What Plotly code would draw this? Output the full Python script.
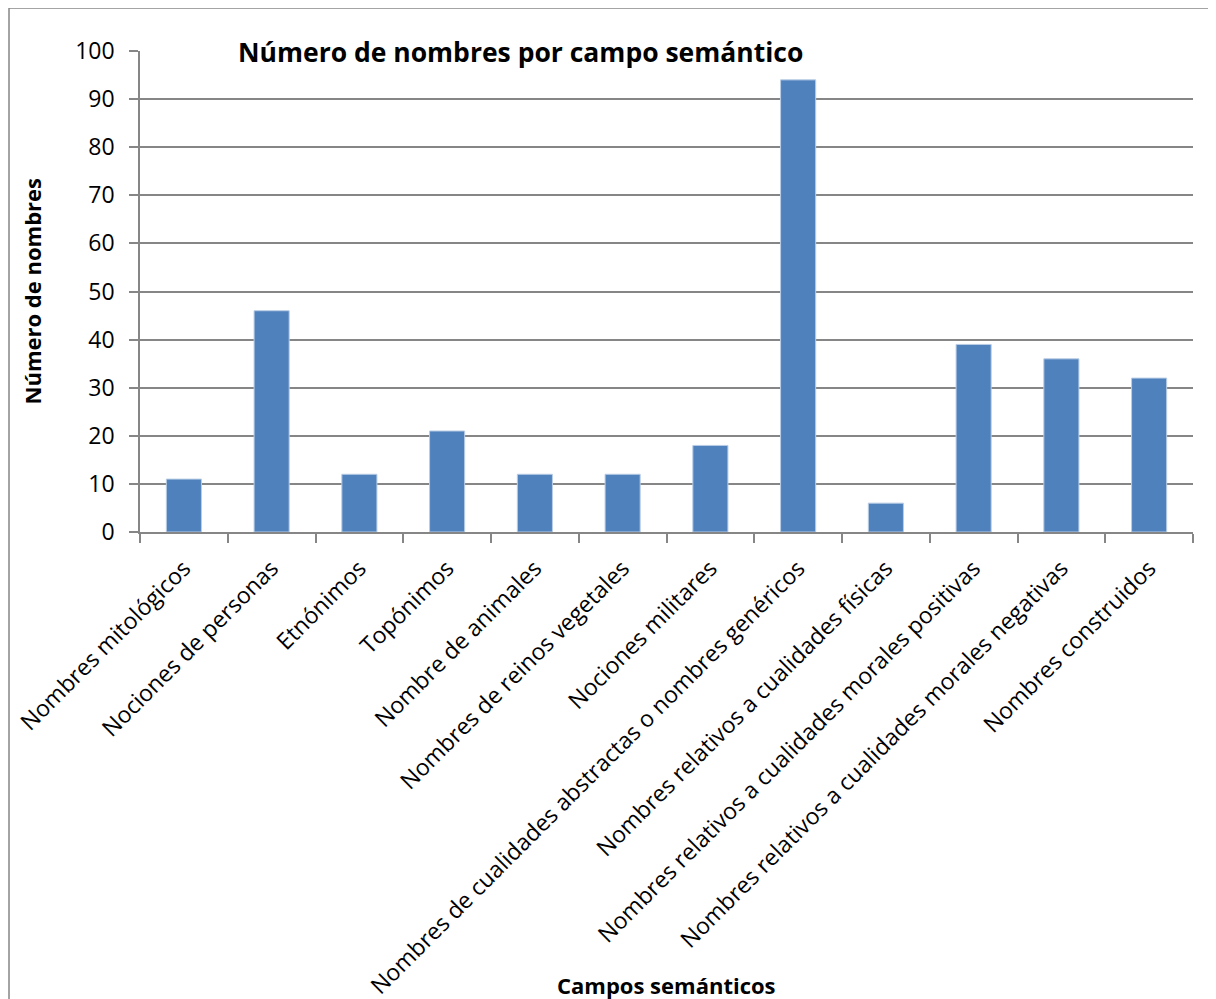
import plotly.graph_objects as go

# Data
campos = [
    "Nombres mitológicos",
    "Nociones de personas",
    "Etnónimos",
    "Topónimos",
    "Nombre de animales",
    "Nombres de reinos vegetales",
    "Nociones militares",
    "Nombres de cualidades abstractas o nombres genéricos",
    "Nombres relativos a cualidades físicas",
    "Nombres relativos a cualidades morales positivas",
    "Nombres relativos a cualidades morales negativas",
    "Nombres construidos",
]
numero = [11, 46, 12, 21, 12, 12, 18, 94, 6, 39, 36, 32]

FONT = "Open Sans"
GRID = "#868686"

fig = go.Figure(go.Bar(
    x=campos, y=numero,
    marker=dict(color="#4F81BD", line=dict(color="#b9cde5", width=1)),
))

# page body adds 8px offset, so margins are shifted accordingly
fig.update_layout(
    width=1216, height=999,
    margin=dict(l=132, r=31, t=43, b=475),
    plot_bgcolor="white", paper_bgcolor="white",
    font=dict(family=FONT, size=23, color="black"),
    bargap=0.6,
    showlegend=False,
)

fig.update_xaxes(
    tickangle=-45, tickson="boundaries", ticks="outside", ticklen=9,
    tickcolor=GRID, tickwidth=1.5,
    showline=True, linecolor=GRID, linewidth=1.5,
    showgrid=False, automargin=False, ticklabelstandoff=12,
)
fig.update_yaxes(
    range=[0, 100], dtick=10, ticks="outside", ticklen=9,
    tickcolor=GRID, tickwidth=1.5,
    showline=True, linecolor=GRID, linewidth=1.5,
    showgrid=True, gridcolor=GRID, gridwidth=1.5,
    zeroline=False, automargin=False, ticklabelstandoff=10,
)

# Titles
fig.add_annotation(text="<b>Número de nombres por campo semántico</b>",
                   xref="paper", yref="paper", x=0.361, y=0.998,
                   xanchor="center", yanchor="middle",
                   showarrow=False, font=dict(size=26.5, family=FONT))
fig.add_annotation(text="<b>Número de nombres</b>", textangle=-90,
                   xref="paper", yref="paper", x=-0.1026, y=0.5,
                   xanchor="center", yanchor="middle",
                   showarrow=False, font=dict(size=22, family=FONT))
fig.add_annotation(text="<b>Campos semánticos</b>",
                   xref="paper", yref="paper", x=0.5, y=-0.942,
                   xanchor="center", yanchor="middle",
                   showarrow=False, font=dict(size=22, family=FONT))

# Outer chart border
fig.add_shape(type="rect", xref="paper", yref="paper",
              x0=-0.1244, y0=-1.2, x1=1.2, y1=1.0894,
              line=dict(color="#868686", width=1.5), layer="below")

fig.write_html("out.html")
